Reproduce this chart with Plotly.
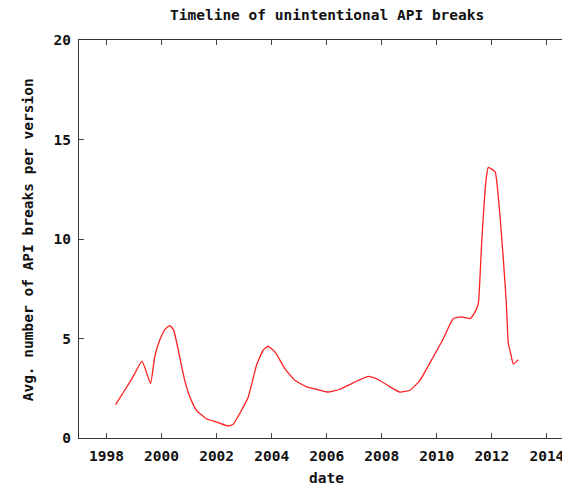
import plotly.graph_objects as go

# fractional year of each point, and average number of API breaks per version
dates = [1998.33, 1998.66, 1998.96, 1999.29, 1999.60, 1999.75, 1999.93, 2000.12,
         2000.30, 2000.44, 2000.66, 2000.84, 2001.03, 2001.27, 2001.63, 2002.00,
         2002.42, 2002.60, 2002.84, 2003.15, 2003.45, 2003.69, 2003.87, 2004.12,
         2004.48, 2004.84, 2005.27, 2005.63, 2006.05, 2006.48, 2006.96, 2007.51,
         2007.87, 2008.30, 2008.66, 2009.03, 2009.39, 2009.87, 2010.24, 2010.60,
         2010.91, 2011.21, 2011.39, 2011.51, 2011.57, 2011.63, 2011.72, 2011.79,
         2011.87, 2012.12, 2012.20, 2012.30, 2012.42, 2012.52, 2012.60, 2012.70,
         2012.78, 2012.96]
breaks = [1.68, 2.40, 3.07, 3.86, 2.74, 4.07, 4.91, 5.45,
          5.65, 5.42, 4.07, 2.90, 2.06, 1.39, 0.97, 0.80,
          0.60, 0.69, 1.23, 2.06, 3.66, 4.41, 4.61, 4.33,
          3.49, 2.90, 2.57, 2.45, 2.31, 2.45, 2.77, 3.10,
          2.94, 2.57, 2.31, 2.40, 2.90, 4.07, 5.00, 6.00,
          6.09, 6.00, 6.34, 6.76, 8.10, 9.78, 11.79, 12.96,
          13.60, 13.38, 12.62, 11.11, 8.94, 6.92, 4.75, 4.16,
          3.71, 3.94]

x_ticks = [1998, 2000, 2002, 2004, 2006, 2008, 2010, 2012, 2014]
y_ticks = [0, 5, 10, 15, 20]

title_text = "Timeline of unintentional API breaks"
x_label = "date"
y_label = "Avg. number of API breaks per version"

# the page places the figure 8px from the top-left corner, so the figure is
# 8px smaller than the window and all page positions are shifted by -8
OFF = 8
W, H = 570 - OFF, 485 - OFF
L, R, T = 79.3 - OFF, 0, 40 - OFF
B = H - (437.7 - OFF)
PW, PH = W - L - R, H - T - B
FONT = dict(family="DejaVu Sans Mono", size=14.5, color="#111111", weight="bold")


def page_to_paper(px, py):
    return (px - OFF - L) / PW, (H - B - (py - OFF)) / PH


fig = go.Figure()
fig.add_trace(go.Scatter(
    x=dates, y=breaks, mode="lines",
    line=dict(color="#ff2020", width=1.3, shape="spline", smoothing=0.4),
    showlegend=False, hoverinfo="skip",
))

axis_common = dict(
    showgrid=False, zeroline=False, showline=True, linecolor="#333333", linewidth=1.2,
    ticks="inside", ticklen=5, tickcolor="#444444", tickwidth=1.2,
    tickfont=FONT,
)
fig.update_xaxes(range=[1997, 2014.84], tickmode="array", tickvals=x_ticks,
                 ticktext=[str(t) for t in x_ticks], mirror="ticks",
                 ticklabelstandoff=4, **axis_common)
fig.update_yaxes(range=[0, 20], tickmode="array", tickvals=y_ticks,
                 ticktext=[str(t) for t in y_ticks], mirror=False,
                 ticklabelstandoff=4, **axis_common)

tl = page_to_paper(326.8, 15.5)
xl = page_to_paper(326.8, 478)
yl = page_to_paper(28.5, 240)
fig.update_layout(
    width=W, height=H,
    margin=dict(l=L, r=R, t=T, b=B, autoexpand=False),
    paper_bgcolor="white", plot_bgcolor="white",
    annotations=[
        dict(text=title_text, font=FONT, xref="paper", yref="paper",
             x=tl[0], y=tl[1], xanchor="center", yanchor="middle",
             showarrow=False),
        dict(text=x_label, font=FONT, xref="paper", yref="paper",
             x=xl[0], y=xl[1], xanchor="center", yanchor="middle",
             showarrow=False),
        dict(text=y_label, font=FONT, xref="paper", yref="paper",
             x=yl[0], y=yl[1], xanchor="center", yanchor="middle",
             textangle=-90, showarrow=False),
    ],
)

fig.write_html("out.html")
